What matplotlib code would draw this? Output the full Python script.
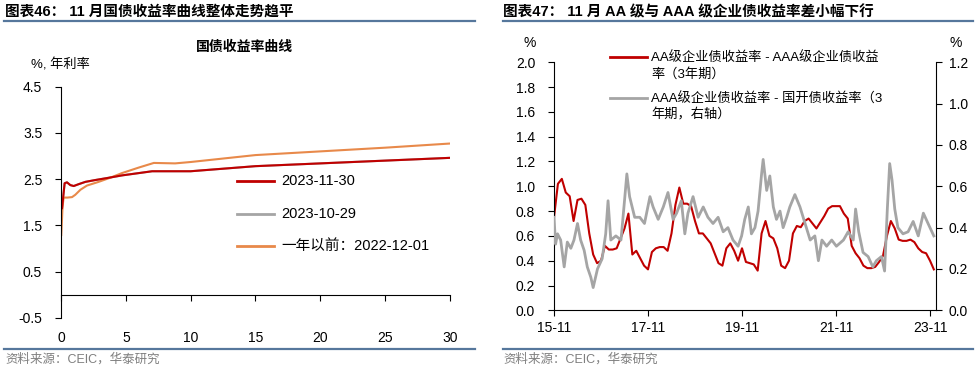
import numpy as np
import matplotlib
matplotlib.use("Agg")
import matplotlib.pyplot as plt
from matplotlib.lines import Line2D

plt.rcParams['font.family'] = ['Liberation Sans', 'Noto Sans CJK SC', 'DejaVu Sans']
plt.rcParams['axes.unicode_minus'] = False

# ---- left chart: treasury yield curve (maturity in years, yield in %)
tenor_now = [0.08, 0.28, 0.46, 0.72, 0.98, 1.36, 1.88, 2.65, 3.5, 4.7, 6.0, 7.03, 8.8, 10, 15, 20, 25, 30]
yc_2023_11_30 = [1.87, 2.41, 2.43, 2.37, 2.35, 2.39, 2.44, 2.48, 2.52, 2.58, 2.63, 2.67, 2.67, 2.67, 2.78, 2.84, 2.90, 2.96]
yc_2023_10_29 = [1.87, 2.41, 2.43, 2.37, 2.35, 2.39, 2.44, 2.48, 2.52, 2.58, 2.63, 2.67, 2.67, 2.67, 2.78, 2.84, 2.90, 2.96]
tenor_ago = [0.02, 0.12, 0.2, 0.5, 0.85, 1.1, 1.5, 2.0, 2.9, 3.8, 4.7, 6.0, 7.16, 8.8, 10, 15, 20, 25, 30]
yc_2022_12_01 = [1.29, 1.9, 2.10, 2.10, 2.11, 2.16, 2.27, 2.36, 2.44, 2.53, 2.63, 2.75, 2.85, 2.84, 2.87, 3.02, 3.10, 3.18, 3.27]
legend_left = ['2023-11-30', '2023-10-29', '一年以前：2022-12-01']

# ---- right chart: credit spreads, x = months since 2015-11
red_m = list(range(0, 97)) + [96.97]
red_v = [0.75, 1.02, 1.06, 0.95, 0.92, 0.72, 0.89, 0.90, 0.85, 0.62,
         0.45, 0.38, 0.40, 0.52, 0.49, 0.49, 0.50, 0.58, 0.66, 0.78,
         0.45, 0.48, 0.42, 0.36, 0.33, 0.47, 0.50, 0.51, 0.51, 0.48,
         0.62, 0.85, 0.99, 0.86, 0.86, 0.84, 0.72, 0.62, 0.62, 0.58,
         0.54, 0.46, 0.38, 0.36, 0.50, 0.54, 0.48, 0.40, 0.50, 0.39,
         0.38, 0.37, 0.32, 0.62, 0.72, 0.60, 0.58, 0.50, 0.36, 0.34,
         0.40, 0.62, 0.68, 0.67, 0.72, 0.74, 0.70, 0.66, 0.71, 0.76,
         0.82, 0.84, 0.84, 0.84, 0.78, 0.74, 0.52, 0.46, 0.42, 0.36,
         0.34, 0.34, 0.35, 0.39, 0.44, 0.60, 0.72, 0.66, 0.57, 0.56,
         0.56, 0.57, 0.55, 0.50, 0.47, 0.46, 0.40, 0.33]
gray_m = [0.0, 0.4, 0.9, 1.7, 2.6, 3.4, 4.3, 5.1, 6.0, 6.8, 7.7, 8.5, 9.4, 10.0, 11.1,
          12.3, 13.2, 13.8, 14.5, 15.8, 17.1, 18.0, 18.6, 19.3, 20.6, 21.9, 23.1, 24.5,
          25.3, 26.6, 27.9, 29.1, 30.4, 31.3, 32.5, 33.4, 34.2, 35.5, 36.8, 38.1, 39.3,
          40.6, 41.9, 43.2, 44.4, 45.7, 47.0, 47.9, 48.7, 49.6, 50.4, 51.3, 52.1, 53.0,
          53.4, 54.3, 55.1, 56.0, 56.8, 57.7, 58.5, 59.4, 60.2, 61.5, 62.8, 64.1, 65.4,
          66.6, 67.5, 68.4, 69.6, 70.9, 72.1, 73.9, 75.1, 76.4, 77.0, 77.8, 78.9, 80.2,
          81.4, 82.3, 83.6, 84.4, 85.1, 85.7, 86.3, 87.0, 87.8, 89.1, 90.4, 91.7, 93.0,
          94.3, 95.5, 96.97]
gray_v = [0.45, 0.32, 0.37, 0.34, 0.21, 0.33, 0.30, 0.34, 0.42, 0.34, 0.29, 0.21, 0.16,
          0.11, 0.20, 0.25, 0.37, 0.53, 0.34, 0.36, 0.34, 0.53, 0.66, 0.55, 0.45, 0.45,
          0.42, 0.55, 0.50, 0.44, 0.50, 0.57, 0.44, 0.47, 0.53, 0.37, 0.47, 0.55, 0.45,
          0.50, 0.45, 0.42, 0.45, 0.38, 0.40, 0.34, 0.31, 0.36, 0.44, 0.50, 0.37, 0.40,
          0.48, 0.66, 0.73, 0.58, 0.65, 0.50, 0.44, 0.48, 0.40, 0.45, 0.50, 0.56, 0.50,
          0.42, 0.34, 0.36, 0.24, 0.34, 0.31, 0.34, 0.31, 0.34, 0.38, 0.34, 0.49, 0.38,
          0.28, 0.26, 0.21, 0.24, 0.26, 0.19, 0.49, 0.71, 0.63, 0.49, 0.40, 0.37, 0.38,
          0.43, 0.36, 0.47, 0.42, 0.36]
month_ticks = [0, 24, 48, 72, 96]
month_labels = ['15-11', '17-11', '19-11', '21-11', '23-11']
legend_right = ['AA级企业债收益率 - AAA级企业债收益\n率（3年期）',
                'AAA级企业债收益率 - 国开债收益率（3\n年期，右轴）']

RED = '#C00000'
GRAY = '#A5A5A5'
ORANGE = '#E8894A'
RULE = '#56779C'
W, H = 979, 374

fig = plt.figure(figsize=(W / 100, H / 100), dpi=100)

def fx(px):
    return px / W

def fy(py):
    return 1 - py / H

# headers, rules and source notes
fig.text(fx(5), fy(12), '图表46： 11 月国债收益率曲线整体走势趋平', fontsize=10.5,
         fontweight='bold', va='center', ha='left')
fig.text(fx(503), fy(12), '图表47： 11 月 AA 级与 AAA 级企业债收益率差小幅下行', fontsize=10.5,
         fontweight='bold', va='center', ha='left')
for x0, x1 in [(4, 475), (503, 973)]:
    for yy in [21, 348.5]:
        fig.add_artist(Line2D([fx(x0), fx(x1)], [fy(yy), fy(yy)], color=RULE, lw=1.6))
fig.text(fx(5), fy(359), '资料来源：CEIC，华泰研究', fontsize=9, color='#7F7F7F', va='center')
fig.text(fx(503), fy(359), '资料来源：CEIC，华泰研究', fontsize=9, color='#7F7F7F', va='center')

# ---------------- left chart
ax = fig.add_axes([fx(61), fy(317.7), fx(450) - fx(61), fy(86.7) - fy(317.7)])
ax.plot(tenor_now, yc_2023_10_29, color=GRAY, lw=1.5)
ax.plot(tenor_ago, yc_2022_12_01, color=ORANGE, lw=1.5)
ax.plot(tenor_now, yc_2023_11_30, color=RED, lw=1.5)
ax.set_xlim(0, 30)
ax.set_ylim(-0.5, 4.5)
ax.set_yticks([-0.5, 0.5, 1.5, 2.5, 3.5, 4.5])
ax.set_yticklabels(['-0.5', '0.5', '1.5', '2.5', '3.5', '4.5'])
ax.set_xticks([0, 5, 10, 15, 20, 25, 30])
ax.spines['top'].set_visible(False)
ax.spines['right'].set_visible(False)
ax.spines['bottom'].set_position(('data', 0))
ax.tick_params(axis='y', direction='out', length=4.5, pad=9, labelsize=10)
ax.tick_params(axis='x', direction='out', length=4.5, pad=22, labelsize=10)
fig.text(fx(245), fy(47), '国债收益率曲线', fontsize=10, fontweight='bold', ha='center', va='center')
fig.text(fx(31), fy(65), '%, 年利率', fontsize=9.5, ha='left', va='center')
for yy, c, lab in zip([180.7, 213.7, 246], [RED, GRAY, ORANGE], legend_left):
    fig.add_artist(Line2D([fx(236.7), fx(274.3)], [fy(yy), fy(yy)], color=c, lw=2))
    fig.text(fx(281.7), fy(yy), lab, fontsize=10.5, va='center', ha='left')

# ---------------- right chart
axr = fig.add_axes([fx(554), fy(310.3), fx(935.7) - fx(554), fy(62.3) - fy(310.3)])
axr.plot(red_m, red_v, color=RED, lw=1.5)
axr.set_xlim(0, 97.45)
axr.set_ylim(0, 2.0)
axr.set_yticks(np.arange(0, 2.01, 0.2))
axr.set_yticklabels(['%.1f' % v for v in np.arange(0, 2.01, 0.2)])
axr.set_xticks(month_ticks)
axr.set_xticklabels(month_labels)
axr.spines['top'].set_visible(False)
axr.spines['right'].set_visible(False)
axr.tick_params(axis='y', direction='out', length=4.5, pad=9, labelsize=10)
axr.tick_params(axis='x', direction='out', length=4, pad=4, labelsize=10)

ax2 = axr.twinx()
ax2.plot(gray_m, gray_v, color=GRAY, lw=2.0)
ax2.set_ylim(0, 1.2)
ax2.set_yticks(np.arange(0, 1.21, 0.2))
ax2.set_yticklabels(['%.1f' % v for v in np.arange(0, 1.21, 0.2)])
for s in ['top', 'left', 'bottom']:
    ax2.spines[s].set_visible(False)
ax2.tick_params(axis='y', direction='out', length=4.5, pad=5, labelsize=10)

fig.text(fx(523), fy(43), '%', fontsize=10, ha='left', va='center')
fig.text(fx(950), fy(43), '%', fontsize=10, ha='left', va='center')
for yy, c, lab in zip([57, 98], [RED, GRAY], legend_right):
    fig.add_artist(Line2D([fx(610), fx(647)], [fy(yy), fy(yy)], color=c, lw=2))
    fig.text(fx(651), fy(yy + 9), lab, fontsize=9.5, va='center', ha='left', linespacing=1.35)

fig.savefig('out.png', dpi=100)
